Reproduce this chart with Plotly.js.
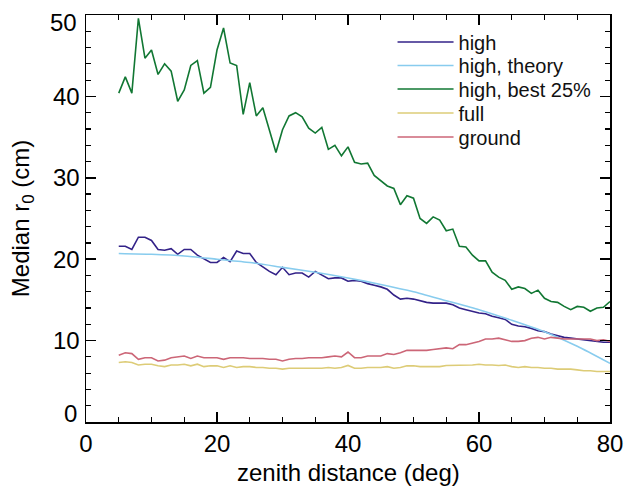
<!DOCTYPE html>
<html>
<head>
<meta charset="utf-8">
<script src="https://cdn.plot.ly/plotly-3.0.1.min.js"></script>
<style>html,body{margin:0;padding:0;background:#fff;}#chart{width:627px;height:486px;}</style>
</head>
<body>
<div id="chart"></div>
<script>
const zenith = [5,6,7,8,9,10,11,12,13,14,15,16,17,18,19,20,21,22,23,24,25,26,27,28,29,30,31,32,33,34,35,36,37,38,39,40,41,42,43,44,45,46,47,48,49,50,51,52,53,54,55,56,57,58,59,60,61,62,63,64,65,66,67,68,69,70,71,72,73,74,75,76,77,78,79,80];
const high = [21.6,21.6,21.2,22.7,22.7,22.3,21.2,21.1,21.3,20.6,21.2,21.2,20.5,20.1,19.6,19.6,20.2,19.7,21.0,20.7,20.7,19.6,19.0,18.5,18.1,19.0,18.1,18.3,18.3,17.8,18.5,18.1,17.6,17.7,17.7,17.3,17.4,17.3,17.0,16.8,16.6,16.3,15.6,15.1,15.2,15.1,14.9,14.7,14.6,14.6,14.6,14.4,14.0,13.8,13.6,13.4,13.3,13.0,12.8,12.6,12.0,11.8,11.7,11.5,11.2,11.1,10.8,10.6,10.4,10.3,10.2,10.1,10.0,9.9,9.8,9.8];
const theoryZenith = [5,10,15,20,25,30,35,40,45,50,55,60,65,70,75,80];
const highTheory = [20.7,20.6,20.4,20.0,19.6,19.0,18.4,17.7,16.9,16.0,14.9,13.8,12.5,11.1,9.3,7.2];
const highBest25 = [40.4,42.4,40.4,49.6,44.7,45.7,42.7,44.0,43.1,39.4,40.8,43.8,44.4,40.4,41.1,45.7,48.4,44.1,43.8,37.8,41.7,37.6,38.6,35.8,33.1,35.9,37.6,38.0,37.5,36.1,35.5,36.2,33.5,34.0,32.7,33.8,31.9,31.7,31.8,30.3,29.6,29.0,28.7,26.7,27.8,27.5,25.0,24.4,25.2,24.8,23.5,23.7,21.6,21.5,20.5,19.8,19.8,18.4,17.8,17.4,16.3,16.6,16.4,15.8,16.2,15.2,14.8,14.7,14.2,13.8,14.2,14.1,13.6,14.0,14.1,14.8];
const full = [7.3,7.4,7.3,7.0,7.1,7.1,6.9,6.8,7.0,7.0,7.1,6.9,7.1,6.8,6.9,6.9,6.7,6.9,6.7,6.8,6.8,6.7,6.7,6.6,6.6,6.5,6.6,6.6,6.6,6.6,6.6,6.6,6.7,6.6,6.7,6.95,6.6,6.6,6.7,6.7,6.7,6.8,6.6,6.7,6.9,6.9,6.8,6.8,6.8,6.8,6.95,6.95,7.0,7.0,7.0,7.1,7.0,7.0,6.95,7.0,6.8,6.7,6.8,6.7,6.7,6.6,6.6,6.5,6.5,6.5,6.4,6.3,6.3,6.2,6.2,6.2];
const ground = [8.2,8.5,8.4,7.7,7.9,7.9,7.5,7.6,7.9,8.0,8.1,7.8,8.1,7.9,7.9,7.9,7.7,7.9,7.9,7.9,7.8,7.8,7.8,7.7,7.7,7.5,7.7,7.8,7.8,7.9,7.9,7.9,8.0,8.1,8.0,8.6,7.9,7.9,8.1,8.1,8.1,8.4,8.3,8.5,8.8,8.8,8.8,8.8,8.9,9.0,9.1,9.0,9.5,9.5,9.7,9.9,10.2,10.2,10.3,10.1,9.9,9.9,10.0,10.3,10.4,10.2,10.4,10.3,10.2,10.2,10.2,10.2,10.2,10.0,10.1,9.9];
const yTickVals = [10,20,30,40];
const yEdgeLabels = [0, 50];
const xTickVals = [0,20,40,60,80];
const xTitle = 'zenith distance (deg)';
const yTitle = 'Median r<sub>0</sub> (cm)';
const seriesNames = ['high', 'high, theory', 'high, best 25%', 'full', 'ground'];
const seriesColors = ['#332288', '#88CCEE', '#117733', '#DDCC77', '#CC6677'];

const FONT = "Liberation Sans, Arial, Helvetica, sans-serif";
const lw = 1.6;
const legendIds = ['legend', 'legend2', 'legend3', 'legend4', 'legend5'];
const traces = [
  {x: zenith, y: high, mode: 'lines', line: {width: lw}},
  {x: theoryZenith, y: highTheory, mode: 'lines', line: {width: lw, shape: 'spline', smoothing: 0.6}},
  {x: zenith, y: highBest25, mode: 'lines', line: {width: lw}},
  {x: zenith, y: full, mode: 'lines', line: {width: lw}},
  {x: zenith, y: ground, mode: 'lines', line: {width: lw}}
];
traces.forEach((t, i) => { t.name = seriesNames[i]; t.line.color = seriesColors[i]; t.legend = legendIds[i]; });

const axisCommon = {
  showline: true, linecolor: '#000', linewidth: 1.5, mirror: 'ticks',
  ticks: 'inside', ticklen: 10, tickwidth: 1.5, tickcolor: '#000',
  showgrid: false, zeroline: false,
  tickfont: {family: FONT, size: 24, color: '#000'}
};

const annotations = yEdgeLabels.map((v, i) => ({
  xref: 'paper', yref: 'y', x: 0, y: v, text: String(v), showarrow: false,
  xanchor: 'right', yanchor: 'middle', xshift: -7, yshift: i === 0 ? 9 : -7,
  font: {family: FONT, size: 24, color: '#000'}
}));
annotations.push({
  xref: 'paper', yref: 'paper', x: 0.5, y: 0, text: xTitle, showarrow: false,
  xanchor: 'center', yanchor: 'middle', yshift: -50,
  font: {family: FONT, size: 24, color: '#000'}
});

const layout = {
  width: 627, height: 486,
  margin: {l: 86, r: 17, t: 15, b: 64},
  paper_bgcolor: '#fff', plot_bgcolor: '#fff',
  font: {family: FONT, color: '#000'},
  showlegend: true,
  xaxis: Object.assign({}, axisCommon, {
    range: [0, 80], tickvals: xTickVals,
    minor: {ticks: 'inside', ticklen: 5, tickwidth: 1.2, tickcolor: '#000', dtick: 5, tick0: 0}
  }),
  yaxis: Object.assign({}, axisCommon, {
    range: [0, 50], tickvals: yTickVals,
    minor: {ticks: 'inside', ticklen: 5, tickwidth: 1.2, tickcolor: '#000', dtick: 2, tick0: 0},
    title: {text: yTitle, font: {family: FONT, size: 24, color: '#000'}, standoff: 16}
  }),
  annotations: annotations
};
const legendRowsY = [0.9337, 0.8759, 0.8182, 0.7592, 0.7002];
legendIds.forEach((id, i) => {
  layout[id] = {x: 0.585, y: legendRowsY[i], xanchor: 'left', yanchor: 'middle', bgcolor: 'rgba(0,0,0,0)',
                font: {family: FONT, size: 20, color: '#111'}, itemwidth: 56};
});

Plotly.newPlot('chart', traces, layout, {displayModeBar: false, staticPlot: true});
</script>
</body>
</html>
